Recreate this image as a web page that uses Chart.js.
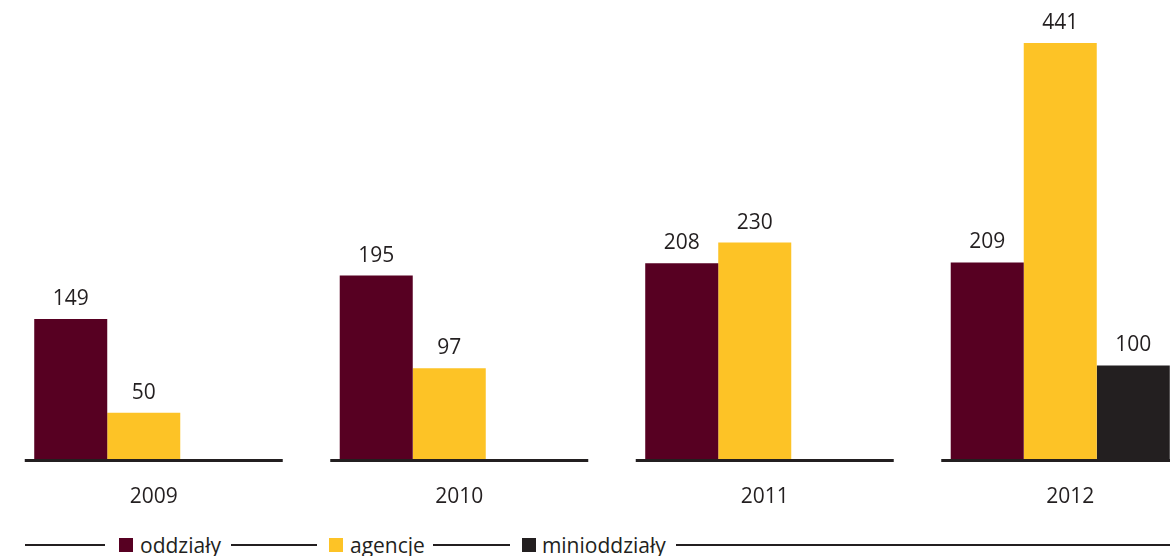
<!DOCTYPE html>
<html>
<head>
<meta charset="utf-8">
<script src="https://cdn.jsdelivr.net/npm/chart.js@4.4.1/dist/chart.umd.min.js"></script>
<style>
  html, body { margin: 0; padding: 0; background: #fff; overflow: hidden; }
  body { width: 1170px; height: 556px; position: relative; font-family: "Open Sans", sans-serif; color: #231f20; }
  #wrap { position: absolute; left: -9px; top: 0; width: 1222px; height: 520px; }
  #legend { position: absolute; left: 0; top: 532px; width: 1170px; height: 26px; display: flex; align-items: center; font-size: 21px; }
  #legend .ln { height: 2px; background: #231f20; }
  #legend .sq { width: 14px; height: 14px; }
</style>
</head>
<body>
<div id="wrap"><canvas id="myChart"></canvas></div>
<div id="legend">
  <div class="ln" style="margin-left:25px;width:80px"></div>
  <div class="sq" style="margin-left:14px;background:#570022"></div>
  <span style="margin-left:7px">oddziały</span>
  <div class="ln" style="margin-left:10px;width:86px"></div>
  <div class="sq" style="margin-left:12px;background:#fdc326"></div>
  <span style="margin-left:7px">agencje</span>
  <div class="ln" style="margin-left:8px;width:77px"></div>
  <div class="sq" style="margin-left:12px;background:#231f20"></div>
  <span style="margin-left:6px">minioddziały</span>
  <div class="ln" style="margin-left:10px;flex:1"></div>
</div>
<script>
const years = ["2009", "2010", "2011", "2012"];
const oddzialy = [149, 195, 208, 209];
const agencje = [50, 97, 230, 441];
const minioddzialy = [null, null, null, 100];

// baseline under each group + value labels over bars
const extras = {
    id: "extras",
    afterDatasetsDraw(chart) {
        const c = chart.ctx;
        const x = chart.scales.x;
        const bottom = chart.chartArea.bottom;
        c.save();
        c.strokeStyle = "#231f20";
        c.lineWidth = 3;
        years.forEach((y, i) => {
            const cx = x.getPixelForValue(i);
            c.beginPath();
            c.moveTo(cx - 119, bottom + 0.5);
            c.lineTo(cx + 139, bottom + 0.5);
            c.stroke();
        });
        c.fillStyle = "#231f20";
        c.font = "21px 'Open Sans'";
        c.textAlign = "center";
        c.textBaseline = "alphabetic";
        chart.data.datasets.forEach((ds, di) => {
            chart.getDatasetMeta(di).data.forEach((bar, i) => {
                if (ds.data[i] == null) return;
                c.fillText(ds.data[i], bar.x, bar.y - 14);
            });
        });
        c.restore();
    }
};

const ctx = document.getElementById('myChart').getContext('2d');
const myChart = new Chart(ctx, {
    type: 'bar',
    data: {
        labels: years,
        datasets: [
            { label: "oddziały", data: oddzialy, backgroundColor: "#570022" },
            { label: "agencje", data: agencje, backgroundColor: "#fdc326" },
            { label: "minioddziały", data: minioddzialy, backgroundColor: "#231f20" }
        ]
    },
    options: {
        responsive: true,
        maintainAspectRatio: false,
        animation: false,
        layout: { padding: 0 },
        datasets: {
            bar: { barPercentage: 1, categoryPercentage: 0.717 }
        },
        plugins: { legend: { display: false }, tooltip: { enabled: false } },
        scales: {
            x: {
                grid: { display: false, drawTicks: false },
                border: { display: false },
                ticks: {
                    padding: 24,
                    labelOffset: 10,
                    color: "#231f20",
                    font: { family: "Open Sans", size: 21 }
                },
                afterFit(scale) { scale.height = 60; }
            },
            y: {
                display: false,
                min: 0,
                max: 486.5
            }
        }
    },
    plugins: [extras]
});
</script>
</body>
</html>
